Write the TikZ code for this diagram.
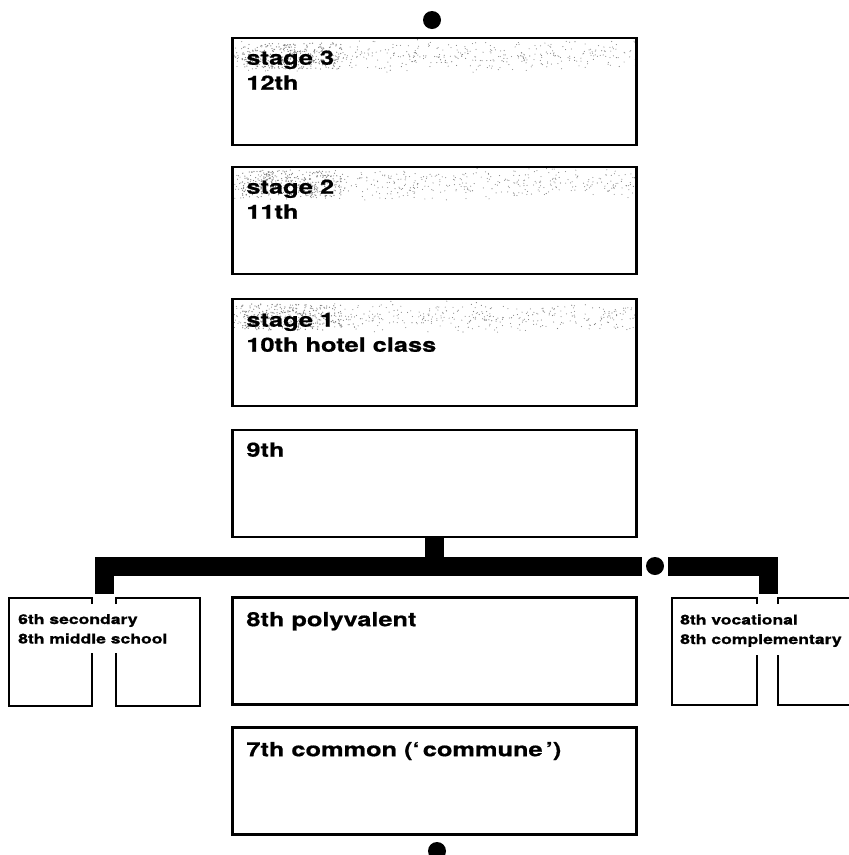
\documentclass[tikz,border=0pt]{standalone}
\usepackage{fontspec}
\newfontfamily\hv[FakeStretch=1.3, BoldFeatures={FakeBold=0.8}]{TeX Gyre Heros}
\begin{document}
\begin{tikzpicture}[x=1pt,y=-1pt,
  box/.style={draw, line width=2.6pt, minimum width=404pt, minimum height=107pt, inner sep=0pt},
  big/.style={font=\hv\bfseries\fontsize{19.5}{25}\selectfont, inner sep=0pt, anchor=base west, align=left},
  small/.style={font=\hv\bfseries\fontsize{13.5}{19.5}\selectfont, inner sep=0pt, anchor=base west, align=left},
  bar/.style={line width=19pt, line cap=butt, line join=miter},
  halfbox/.style={line width=2.6pt, line join=miter},
  dot/.style={circle, fill, minimum size=18pt, inner sep=0pt},
  speck/.style={fill=black!50}]
\useasboundingbox (0,0) rectangle (849,855);
\clip (0,0) rectangle (849,855);

% stippled bands of the three stage boxes
\pgfmathsetseed{7}
\foreach \t in {37,165,298}{
  \begin{scope}
    \clip (234,\t+1.5) rectangle (636,\t+40);
    \foreach \i in {1,...,450}{
      \pgfmathsetmacro\rx{234+402*rnd}
      \pgfmathsetmacro\ry{\t+2+34*(rnd+rnd)/2}
      \fill[speck] (\rx,\ry) circle (0.55);
    }
    \foreach \i in {1,...,260}{
      \pgfmathsetmacro\rx{242+100*rnd}
      \pgfmathsetmacro\ry{\t+6+26*rnd}
      \fill[speck] (\rx,\ry) circle (0.65);
    }
  \end{scope}
}

% main column boxes
\node[box] (s3) at (434.5,91.5) {};
\node[box] (s2) at (434.5,220.5) {};
\node[box] (s1) at (434.5,352.5) {};
\node[box] (n9) at (434.5,483.5) {};
\node[box] (n8) at (434.5,651) {};
\node[box] (n7) at (434.5,781) {};

\node[big] (t3) at ([xshift=15pt,yshift=-53pt]s3.north west) {stage 3\\12th};
\node[big] (t2) at ([xshift=15pt,yshift=-53pt]s2.north west) {stage 2\\11th};
\node[big] (t1) at ([xshift=15pt,yshift=-54pt]s1.north west) {stage 1\\10th hotel class};
\node[big] (t9) at ([xshift=15pt,yshift=-28pt]n9.north west) {9th};
\node[big] (t8) at ([xshift=15pt,yshift=-30pt]n8.north west) {8th polyvalent};
\node[big] (t7) at ([xshift=15pt,yshift=-30pt]n7.north west) {7th common (‘\,commune\,’)};

% end dots
\node[dot] (topdot) at (432,20) {};
\node[dot] (botdot) at (437,851) {};

% side boxes (split by a slot)
\draw[halfbox] (92,604) -- (92,598) -- (9,598) -- (9,706) -- (92,706) -- (92,653);
\draw[halfbox] (116,604) -- (116,598) -- (200,598) -- (200,706) -- (116,706) -- (116,653);
\draw[halfbox] (757,604) -- (757,598) -- (672,598) -- (672,705) -- (757,705) -- (757,655);
\draw[halfbox] (778,604) -- (778,598) -- (862,598) -- (862,705) -- (778,705) -- (778,655);

\node[small] (tl) at (18,643.5) {6th secondary\\8th middle school};
\node[small] (tr) at (680,644) {8th vocational\\8th complementary};

% connectors
\coordinate (lg) at (104,594);
\coordinate (rg) at (768,594);
\coordinate (jn) at (436.5,566);
\node[dot, outer sep=4pt] (jd) at (655,566) {};
\draw[bar] (n9.south) -- (n9.south |- jn);
\draw[bar] (lg) |- (jd.west);
\draw[bar] (jd.east) -| (rg);
\end{tikzpicture}
\end{document}
